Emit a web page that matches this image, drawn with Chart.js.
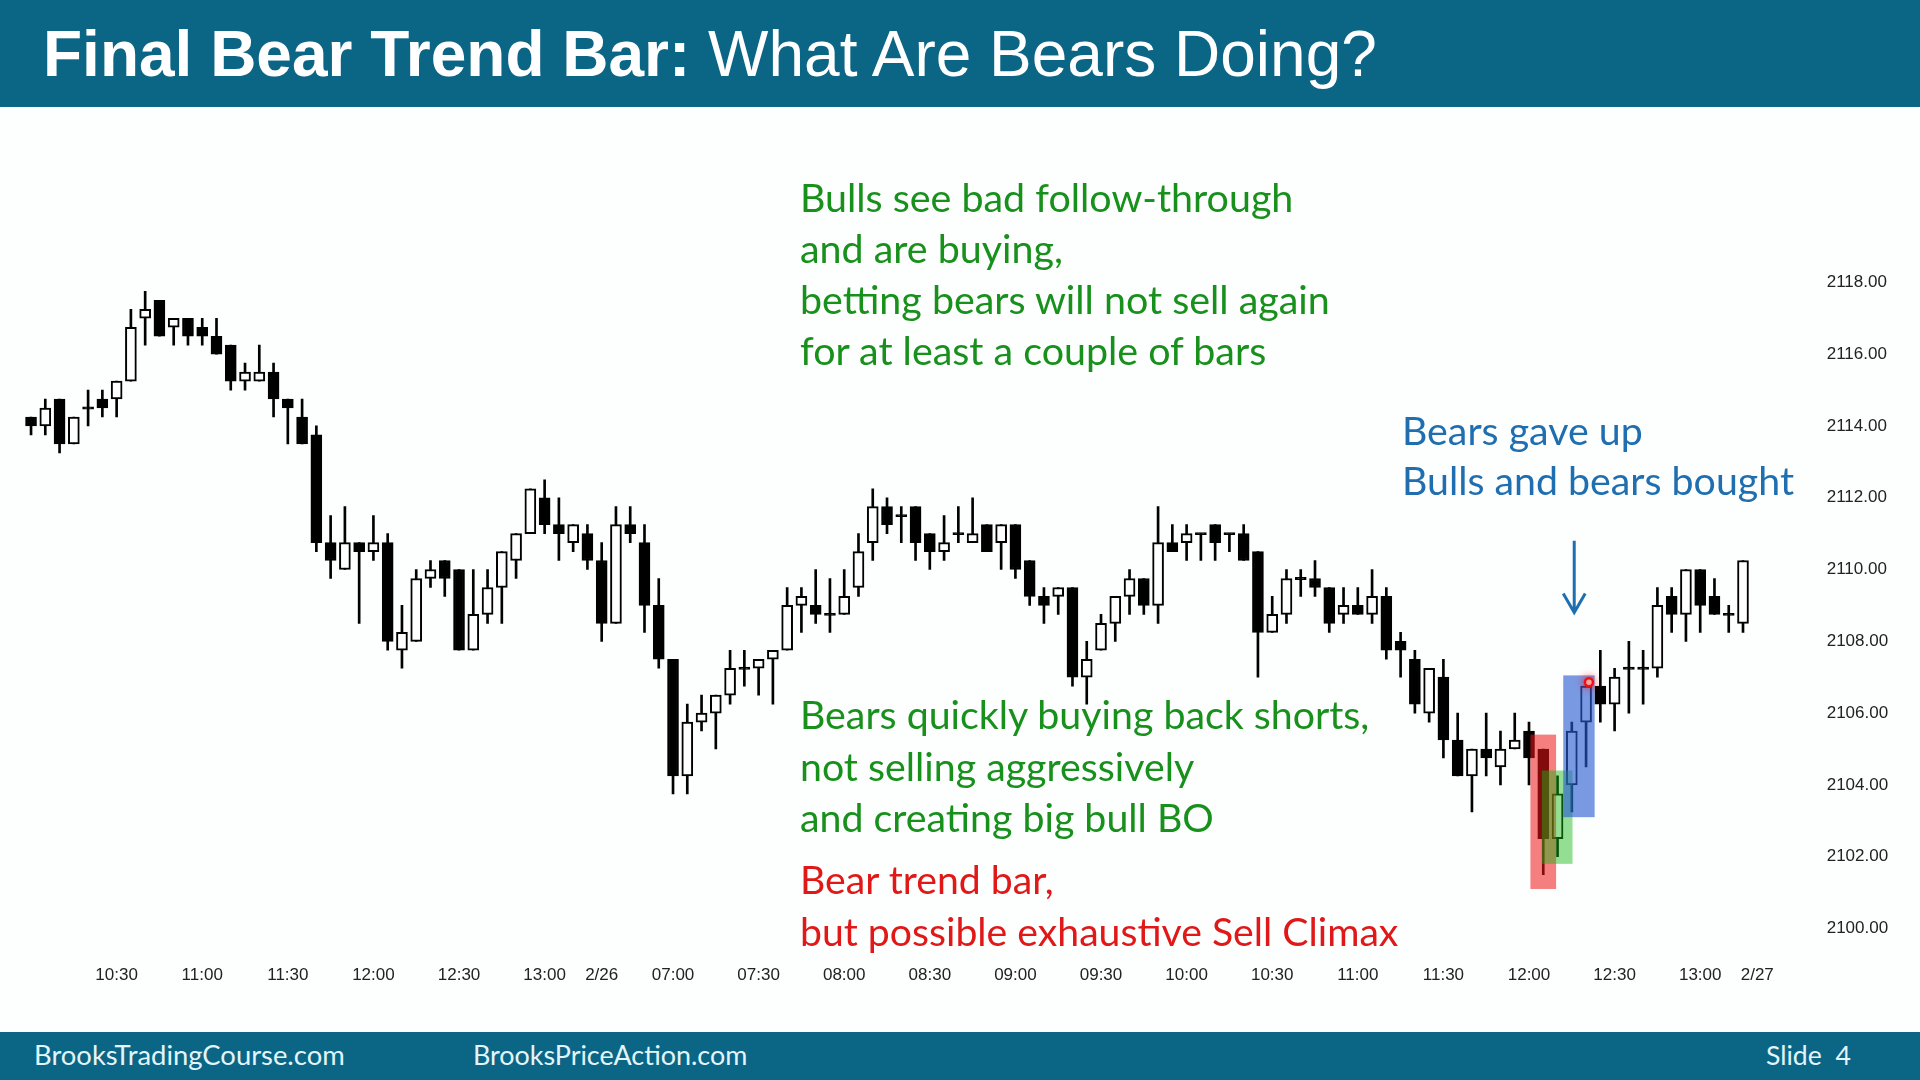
<!DOCTYPE html>
<html>
<head>
<meta charset="utf-8">
<script src="https://cdn.jsdelivr.net/npm/chart.js@4.4.1/dist/chart.umd.min.js"></script>
<style>
  html, body { margin: 0; padding: 0; width: 1920px; height: 1080px; overflow: hidden; background: #fdfefe; }
  #header { position: absolute; left: 0; top: 0; width: 1920px; height: 107px; background: #0b6585; }
  #title { position: absolute; left: 43px; top: 22px; font: 64px/64px "Liberation Sans", Arial, sans-serif; color: #fff; white-space: nowrap; }
  #footer { position: absolute; left: 0; top: 1032px; width: 1920px; height: 48px; background: #0b6585; }
  .foot { position: absolute; top: 0; line-height: 46px; color: #e2f5fb; font-family: Lato, sans-serif; white-space: nowrap; }
  #chartBox { position: absolute; left: 0; top: 107px; width: 1920px; height: 925px; }
  .note { position: absolute; font-family: Lato, sans-serif; white-space: nowrap; }
  .green { color: #18901c; }
  .red { color: #e01818; }
  .blue { color: #1f6fb0; }
</style>
</head>
<body>
<div id="header"><div id="title"><b>Final Bear Trend Bar:</b> What Are Bears Doing?</div></div>

<div id="chartBox"><canvas id="chart"></canvas></div>

<div class="note green" data-width="494" data-base="211.5" data-lh="51.2" data-line="Bulls see bad follow-through" style="left:800px">Bulls see bad follow-through<br>and are buying,<br>betting bears will not sell again<br>for at least a couple of bars</div>
<div class="note blue" data-width="392" data-base="445.5" data-lh="50.2" data-line="Bulls and bears bought" style="left:1402px">Bears gave up<br>Bulls and bears bought</div>
<div class="note green" data-width="570" data-base="729" data-lh="51.4" data-line="Bears quickly buying back shorts," style="left:800px">Bears quickly buying back shorts,<br>not selling aggressively<br>and creating big bull BO</div>
<div class="note red" data-width="598" data-base="894" data-lh="51.4" data-line="but possible exhaustive Sell Climax" style="left:800px">Bear trend bar,<br>but possible exhaustive Sell Climax</div>

<div id="footer">
  <div class="foot" data-width="311" style="left:34px">BrooksTradingCourse.com</div>
  <div class="foot" data-width="274" style="left:473px">BrooksPriceAction.com</div>
  <div class="foot" data-width="85" style="left:1766px">Slide&nbsp;&nbsp;4</div>
</div>

<script>
//5-minute bars, 2/25 from 10:00 and 2/26 from 06:35
const opens = [
  2114.25, 2114.0, 2114.75, 2113.5, 2114.5, 2114.75, 2114.75, 2115.25, 2117.0, 2117.5,
  2116.75, 2117.0, 2116.75, 2116.5, 2116.25, 2115.25, 2115.25, 2115.5, 2114.75, 2114.25,
  2113.75, 2110.75, 2110.0, 2110.75, 2110.5, 2110.75, 2107.75, 2108.0, 2109.75, 2110.25,
  2110.0, 2107.75, 2108.75, 2109.5, 2110.25, 2111.0, 2112.0, 2111.25, 2110.75, 2111.0,
  2110.25, 2108.5, 2111.25, 2110.75, 2109.0, 2107.5, 2104.25, 2105.75, 2106.0, 2106.5,
  2107.25, 2107.25, 2107.5, 2107.75, 2109.0, 2109.0, 2108.75, 2108.75, 2109.5, 2110.75,
  2111.75, 2111.5, 2111.75, 2111.0, 2110.5, 2111.0, 2110.75, 2111.25, 2110.75, 2111.25,
  2110.25, 2109.25, 2109.25, 2109.5, 2107.0, 2107.75, 2108.5, 2109.25, 2109.75, 2109.0,
  2110.75, 2110.75, 2111.0, 2111.25, 2111.0, 2111.0, 2110.5, 2108.25, 2108.75, 2109.75,
  2109.75, 2109.5, 2108.75, 2109.0, 2108.75, 2109.25, 2108.0, 2107.5, 2106.0, 2107.0,
  2105.25, 2104.25, 2105.0, 2104.5, 2105.0, 2105.5, 2105.0, 2102.5, 2104.0, 2105.75,
  2106.75, 2106.25, 2107.25, 2107.25, 2107.25, 2109.25, 2108.75, 2110.0, 2109.25, 2108.75, 2108.5
];
const highs = [
  2114.25, 2114.75, 2114.75, 2114.25, 2115.0, 2115.0, 2115.25, 2117.25, 2117.75, 2117.5,
  2117.0, 2117.0, 2117.0, 2117.0, 2116.25, 2115.75, 2116.25, 2115.75, 2114.75, 2114.75,
  2114.0, 2111.5, 2111.75, 2110.75, 2111.5, 2111.0, 2109.0, 2110.0, 2110.25, 2110.25,
  2110.0, 2110.0, 2110.0, 2110.5, 2111.0, 2112.25, 2112.5, 2112.0, 2111.25, 2111.25,
  2110.75, 2111.75, 2111.75, 2111.25, 2109.75, 2107.5, 2106.25, 2106.5, 2106.5, 2107.75,
  2107.75, 2107.5, 2107.75, 2109.5, 2109.5, 2110.0, 2109.75, 2110.0, 2111.0, 2112.25,
  2112.0, 2111.75, 2111.75, 2111.0, 2111.5, 2111.75, 2112.0, 2111.25, 2111.25, 2111.25,
  2110.25, 2109.5, 2109.5, 2109.5, 2108.0, 2108.75, 2109.25, 2110.0, 2109.75, 2111.75,
  2111.25, 2111.25, 2111.0, 2111.25, 2111.0, 2111.25, 2110.5, 2109.25, 2110.0, 2110.0,
  2110.25, 2109.5, 2109.5, 2109.5, 2110.0, 2109.5, 2108.25, 2107.75, 2107.25, 2107.5,
  2106.0, 2105.0, 2106.0, 2105.5, 2106.0, 2105.75, 2105.0, 2104.25, 2105.75, 2106.75,
  2107.75, 2107.25, 2108.0, 2107.75, 2109.5, 2109.5, 2110.0, 2110.0, 2109.75, 2109.0, 2110.25
];
const lows = [
  2113.75, 2113.75, 2113.25, 2113.5, 2114.0, 2114.25, 2114.25, 2115.25, 2116.25, 2116.5,
  2116.25, 2116.25, 2116.25, 2116.0, 2115.0, 2115.0, 2115.25, 2114.25, 2113.5, 2113.5,
  2110.5, 2109.75, 2110.0, 2108.5, 2110.25, 2107.75, 2107.25, 2108.0, 2109.5, 2109.25,
  2107.75, 2107.75, 2108.5, 2108.5, 2109.75, 2111.0, 2111.0, 2110.25, 2110.5, 2110.0,
  2108.0, 2108.5, 2110.75, 2108.25, 2107.25, 2103.75, 2103.75, 2105.5, 2105.0, 2106.25,
  2106.75, 2106.5, 2106.25, 2107.75, 2108.25, 2108.5, 2108.25, 2108.75, 2109.25, 2110.25,
  2111.0, 2110.75, 2110.25, 2110.0, 2110.25, 2110.75, 2110.75, 2110.5, 2110.0, 2109.75,
  2109.0, 2108.5, 2108.75, 2106.75, 2106.25, 2107.75, 2108.0, 2108.75, 2108.75, 2108.5,
  2110.5, 2110.25, 2110.25, 2110.25, 2110.5, 2110.25, 2107.0, 2108.25, 2108.5, 2109.25,
  2109.25, 2108.25, 2108.5, 2108.75, 2108.5, 2107.5, 2107.0, 2106.0, 2105.75, 2104.75,
  2104.25, 2103.25, 2104.25, 2104.0, 2105.0, 2104.0, 2101.5, 2102.0, 2103.25, 2104.5,
  2105.75, 2105.5, 2106.0, 2106.25, 2107.0, 2108.25, 2108.0, 2108.25, 2108.75, 2108.25, 2108.25
];
const closes = [
  2114.0, 2114.5, 2113.5, 2114.25, 2114.5, 2114.5, 2115.25, 2116.75, 2117.25, 2116.5,
  2117.0, 2116.5, 2116.5, 2116.0, 2115.25, 2115.5, 2115.5, 2114.75, 2114.5, 2113.5,
  2110.75, 2110.25, 2110.75, 2110.5, 2110.75, 2108.0, 2108.25, 2109.75, 2110.0, 2109.75,
  2107.75, 2108.75, 2109.5, 2110.5, 2111.0, 2112.25, 2111.25, 2111.0, 2111.25, 2110.25,
  2108.5, 2111.25, 2111.0, 2109.0, 2107.5, 2104.25, 2105.75, 2106.0, 2106.5, 2107.25,
  2107.25, 2107.5, 2107.75, 2109.0, 2109.25, 2108.75, 2108.75, 2109.25, 2110.5, 2111.75,
  2111.25, 2111.5, 2110.75, 2110.5, 2110.75, 2111.0, 2111.0, 2110.5, 2111.25, 2110.0,
  2109.25, 2109.0, 2109.5, 2107.0, 2107.5, 2108.5, 2109.25, 2109.75, 2109.0, 2110.75,
  2110.5, 2111.0, 2111.0, 2110.75, 2111.0, 2110.25, 2108.25, 2108.75, 2109.75, 2109.75,
  2109.5, 2108.5, 2109.0, 2108.75, 2109.25, 2107.75, 2107.75, 2106.25, 2107.25, 2105.25,
  2104.25, 2105.0, 2104.75, 2105.0, 2105.25, 2104.75, 2102.5, 2103.75, 2105.5, 2106.75,
  2106.25, 2107.0, 2107.25, 2107.25, 2109.0, 2108.75, 2110.0, 2109.0, 2108.75, 2108.75, 2110.25
];
//price labels on the right axis
const priceTicks = [2100, 2102, 2104, 2106, 2108, 2110, 2112, 2114, 2116, 2118];

//sessions: date, first bar, number of bars (the last one is only a slot for the next date)
const sessions = [["2/25", "10:00", 40], ["2/26", "06:35", 81], ["2/27", "06:35", 1]];
const times = [];
sessions.forEach(([date, start, count]) => {
  let [h, m] = start.split(":").map(Number);
  for (let i = 0; i < count; i++) {
    times.push(date + " " + String(h).padStart(2, "0") + ":" + String(m).padStart(2, "0"));
    m += 5;
    if (m >= 60) { m -= 60; h += 1; }
  }
});

//highlighted bars (bar index range, price range)
const boxes = [
  { from: 105.1, to: 106.9, low: 2101.1, high: 2105.4 },
  { from: 105.9, to: 108.05, low: 2101.8, high: 2104.4 },
  { from: 107.4, to: 109.6, low: 2103.1, high: 2107.05 },
];
const boxColors = ["rgba(238,20,20,0.55)", "rgba(20,185,20,0.45)", "rgba(40,90,210,0.62)"];
const arrow = { at: 108.17, from: 2110.8, to: 2108.8 };
const marker = { at: 109.2, price: 2106.86 };

//candle parts
const wickData = lows.map((l, i) => [l, highs[i]]);
const bodyData = opens.map((o, i) => {
  const lo = Math.min(o, closes[i]);
  const hi = Math.max(o, closes[i]);
  //doji: keep a thin line visible
  return hi - lo < 0.06 ? [lo - 0.03, hi + 0.03] : [lo, hi];
});
const bodyColors = opens.map((o, i) => (closes[i] > o ? "#ffffff" : "#000000"));

//fit note / footer fonts to the widths seen in the slide
const measure = document.createElement("canvas").getContext("2d");
document.querySelectorAll("[data-width]").forEach((el) => {
  const cs = getComputedStyle(el);
  measure.font = cs.fontWeight + " 100px " + cs.fontFamily;
  const line = el.dataset.line || el.textContent;
  const size = (100 * el.dataset.width) / measure.measureText(line).width;
  el.style.fontSize = size.toFixed(1) + "px";
  if (el.dataset.base) {
    const lh = parseFloat(el.dataset.lh);
    el.style.lineHeight = lh + "px";
    el.style.top = (el.dataset.base - ((lh - 1.2 * size) / 2 + 0.987 * size)).toFixed(1) + "px";
  }
});

const overlay = {
  id: "overlay",
  afterDatasetsDraw(chart) {
    const { ctx, scales } = chart;
    const x = scales.x, y = scales.y;
    ctx.save();
    boxes.forEach((b, i) => {
      const x0 = x.getPixelForValue(b.from), x1 = x.getPixelForValue(b.to);
      const y0 = y.getPixelForValue(b.high), y1 = y.getPixelForValue(b.low);
      ctx.fillStyle = boxColors[i];
      ctx.fillRect(x0, y0, x1 - x0, y1 - y0);
    });
    //red marker
    const mx = x.getPixelForValue(marker.at), my = y.getPixelForValue(marker.price);
    ctx.shadowColor = "rgba(255,0,0,0.7)";
    ctx.shadowBlur = 8;
    ctx.beginPath();
    ctx.arc(mx, my, 4, 0, Math.PI * 2);
    ctx.fillStyle = "#ffd0d0";
    ctx.fill();
    ctx.lineWidth = 2.5;
    ctx.strokeStyle = "#ee1111";
    ctx.stroke();
    ctx.shadowBlur = 0;
    //blue arrow
    const ax = x.getPixelForValue(arrow.at);
    const ay0 = y.getPixelForValue(arrow.from), ay1 = y.getPixelForValue(arrow.to);
    ctx.strokeStyle = "#1f6fb0";
    ctx.lineWidth = 3;
    ctx.beginPath();
    ctx.moveTo(ax, ay0);
    ctx.lineTo(ax, ay1);
    ctx.moveTo(ax - 11, ay1 - 19);
    ctx.lineTo(ax, ay1);
    ctx.lineTo(ax + 11, ay1 - 19);
    ctx.stroke();
    ctx.restore();
  },
};

const tickFont = { family: "'Liberation Sans', Arial, sans-serif", size: 17 };

new Chart(document.getElementById("chart"), {
  type: "bar",
  data: {
    labels: times,
    datasets: [
      {
        data: wickData,
        backgroundColor: "#000000",
        barThickness: 2,
        grouped: false,
        order: 2,
      },
      {
        data: bodyData,
        backgroundColor: bodyColors,
        borderColor: "#000000",
        borderWidth: 2,
        borderSkipped: false,
        barThickness: 11,
        grouped: false,
        order: 1,
      },
    ],
  },
  options: {
    responsive: true,
    maintainAspectRatio: false,
    animation: false,
    layout: { padding: { left: 23.9, right: 0, top: 49.1, bottom: 0 } },
    plugins: { legend: { display: false }, tooltip: { enabled: false } },
    scales: {
      x: {
        grid: { display: false, drawTicks: false },
        border: { display: false },
        afterFit: (s) => { s.height = 69.25; },
        ticks: {
          autoSkip: false,
          maxRotation: 0,
          minRotation: 0,
          padding: 5.5,
          color: "#222222",
          font: tickFont,
          callback: function (value, index) {
            if (index === 0) return null;
            const [date, time] = this.getLabelForValue(value).split(" ");
            const prevDate = this.getLabelForValue(index - 1).split(" ")[0];
            if (prevDate !== date) return date;
            return time.endsWith(":00") || time.endsWith(":30") ? time : null;
          },
        },
      },
      y: {
        position: "right",
        min: 2099.135,
        max: 2120.866,
        grid: { display: false, drawTicks: false },
        border: { display: false },
        afterBuildTicks: (s) => { s.ticks = priceTicks.map((v) => ({ value: v })); },
        afterFit: (s) => { s.width = 155.6; },
        ticks: {
          padding: 62.3,
          color: "#222222",
          font: tickFont,
          callback: (v) => Number(v).toFixed(2),
        },
      },
    },
  },
  plugins: [overlay],
});
</script>
</body>
</html>
